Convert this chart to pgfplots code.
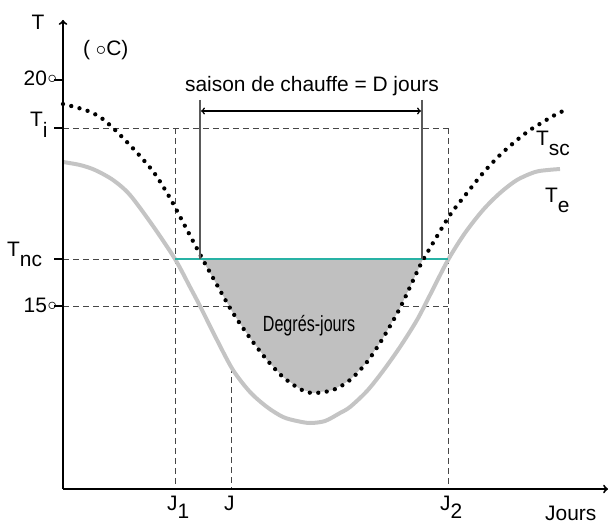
\documentclass[border=0pt]{standalone}
\usepackage{fontspec}
\setmainfont{Liberation Sans}
\usepackage{pgfplots}
\pgfplotsset{compat=1.18}
\definecolor{tealline}{RGB}{40,178,165}
\definecolor{curvegray}{RGB}{196,196,196}
\definecolor{fillgray}{RGB}{192,192,192}
\definecolor{dashgray}{RGB}{70,70,70}
\definecolor{vgray}{RGB}{90,90,90}
\newcommand\sub[1]{\raisebox{-0.5em}{#1}}
\newcommand\subj[1]{\raisebox{-0.4em}{#1}}
\newcommand\dg{\kern0.5bp\raisebox{2bp}{\scalebox{0.9}{$\circ$}}}
\begin{document}
\begin{tikzpicture}[font=\fontsize{21}{25}\selectfont]
\begin{axis}[at={(0,0)},anchor=south west,width=610bp,height=528bp,scale only axis,
  xmin=0,xmax=610,ymin=0,ymax=528,y dir=reverse,hide axis,clip=false]
% dashed guides
\addplot[dashgray,line width=1bp,dash pattern=on 6bp off 4bp] coordinates {(63,128)(448,128)};
\addplot[dashgray,line width=1bp,dash pattern=on 6bp off 4bp] coordinates {(175,128)(175,489)};
\addplot[dashgray,line width=1bp,dash pattern=on 6bp off 4bp] coordinates {(448,128)(448,489)};
\addplot[dashgray,line width=1bp,dash pattern=on 6bp off 4bp] coordinates {(63,259)(175,259)};
\addplot[dashgray,line width=1bp,dash pattern=on 6bp off 4bp] coordinates {(63,306)(448,306)};
\addplot[dashgray,line width=1bp,dash pattern=on 6bp off 4bp] coordinates {(231,367)(231,489)};
% degree-days area
\addplot[fill=fillgray,draw=none] coordinates {(202,259)(217,285)(233,313)(250,338)(267,360)(283,377)(300,389)(313,393)(333,390)(350,380)(367,362)(383,338)(400,308)(417,272)(423,259)} --cycle;
% T_e
\addplot[curvegray,line width=4bp,smooth] coordinates {(63,162)(80,165)(95,170)(113,180)(130,195)(153,226)(175,259)(190,287)(200,306)(217,340)(233,370)(250,392)(267,407)(283,417)(297,421)(310,423)(325,421)(340,413)(350,407)(367,391)(383,371)(400,347)(417,320)(430,295)(448,260)(465,233)(483,210)(500,193)(517,180)(535,172)(548,170)(560,169)};
% T_nc
\addplot[tealline,line width=2bp] coordinates {(175,259)(448,259)};
% T_sc
\addplot[black,line width=4.3bp,line cap=round,dash pattern=on 0bp off 8.5bp,smooth] coordinates {(63,104)(75,107)(88,111)(100,117)(112,127)(125,140)(140,156)(155,174)(170,198)(185,226)(202,258)(217,285)(233,313)(250,338)(267,360)(283,377)(300,389)(313,393)(333,390)(350,380)(367,362)(383,338)(400,308)(417,272)(423,260)(433,243)(450,215)(467,193)(483,173)(500,155)(517,140)(530,130)(543,122)(553,116)(563,111)};
% season bounds
\addplot[vgray,line width=1.2bp] coordinates {(200,100)(200,259)};
\addplot[vgray,line width=1.2bp] coordinates {(422,100)(422,259)};
\draw[black,line width=1.5bp,<->] (axis cs:201,111) -- (axis cs:421,111);
% axes
\draw[black,line width=2bp,->] (axis cs:63,489) -- (axis cs:63,20);
\draw[black,line width=2bp,->] (axis cs:63,489) -- (axis cs:608,489);
\draw[black,line width=1.5bp] (axis cs:54,80) -- (axis cs:63,80);
\draw[black,line width=1.5bp] (axis cs:54,128) -- (axis cs:63,128);
\draw[black,line width=1.5bp] (axis cs:54,259) -- (axis cs:63,259);
\draw[black,line width=1.5bp] (axis cs:54,306) -- (axis cs:63,306);
% labels
\node[anchor=base,inner sep=0pt] at (axis cs:38,30) {T};
\node[anchor=base west,inner sep=0pt] at (axis cs:83,56) {( $\circ$C)};
\node[anchor=base east,inner sep=0pt] at (axis cs:57,86) {20\dg};
\node[anchor=base east,inner sep=0pt] at (axis cs:57,312) {15\dg};
\node[anchor=base west,inner sep=0pt] at (axis cs:30,127) {T\sub{i}};
\node[anchor=base west,inner sep=0pt] at (axis cs:7,256) {T\sub{nc}};
\node[anchor=base west,inner sep=0pt] at (axis cs:536,145) {T\sub{sc}};
\node[anchor=base west,inner sep=0pt] at (axis cs:545,202) {T\sub{e}};
\node[anchor=base west,inner sep=0pt] at (axis cs:167,510) {J\subj{1}};
\node[anchor=base west,inner sep=0pt] at (axis cs:224,510) {J};
\node[anchor=base west,inner sep=0pt] at (axis cs:440,510) {J\subj{2}};
\node[anchor=base west,inner sep=0pt] at (axis cs:545,520) {Jours};
\node[anchor=base,inner sep=0pt] at (axis cs:312,92) {saison de chauffe = D jours};
\node[anchor=base,inner sep=0pt] at (axis cs:309,331) {\scalebox{0.77}[1.05]{Degrés-jours}};
\end{axis}
\pgfresetboundingbox
\useasboundingbox (0,0) rectangle (610bp,528bp);
\end{tikzpicture}
\end{document}
